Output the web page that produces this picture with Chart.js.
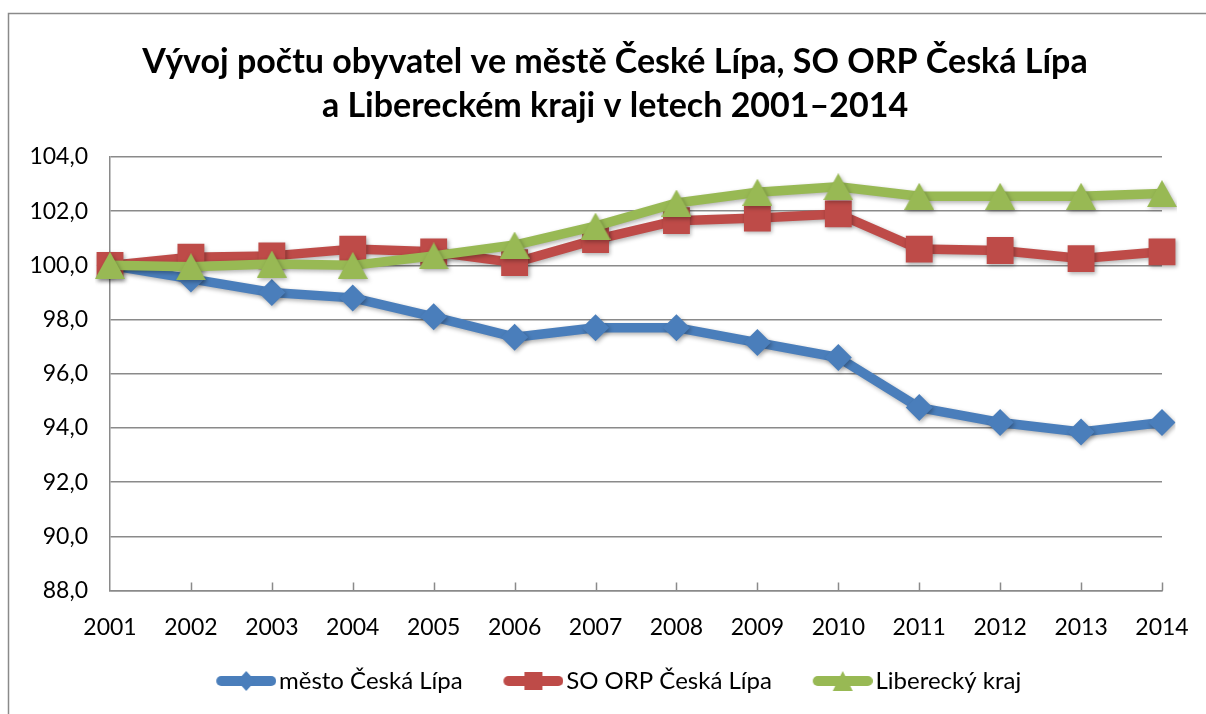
<!DOCTYPE html>
<html>
<head>
<meta charset="utf-8">
<script src="https://cdn.jsdelivr.net/npm/chart.js@4/dist/chart.umd.min.js"></script>
<style>
  html, body { margin: 0; padding: 0; background: #fff; }
  #wrap { width: 1206px; height: 714px; position: relative; }
</style>
</head>
<body>
<div id="wrap"><canvas id="c" width="1206" height="714"></canvas></div>
<script>
const years = ['2001','2002','2003','2004','2005','2006','2007','2008','2009','2010','2011','2012','2013','2014'];
const mestoCeskaLipa = [100.0, 99.5, 99.0, 98.8, 98.1, 97.35, 97.7, 97.7, 97.15, 96.6, 94.75, 94.2, 93.85, 94.2];
const orpCeskaLipa = [100.0, 100.3, 100.35, 100.6, 100.5, 100.1, 100.95, 101.65, 101.75, 101.9, 100.6, 100.55, 100.25, 100.5];
const libereckyKraj = [100.0, 99.95, 100.05, 100.0, 100.35, 100.75, 101.45, 102.3, 102.7, 102.9, 102.55, 102.55, 102.55, 102.65];
const seriesNames = ['město Česká Lípa', 'SO ORP Česká Lípa', 'Liberecký kraj'];
const titleLines = ['Vývoj počtu obyvatel ve městě České Lípa, SO ORP Česká Lípa', 'a Libereckém kraji v letech 2001–2014'];
const yTicks = { min: 88, max: 104, step: 2 };

const BLUE = '#4A7EBB', RED = '#BE4B48', GREEN = '#98B954', GRID = '#8a8a8a';
const FONT = 'Lato, "Open Sans", sans-serif';

function triangleCanvas(w, h, color) {
  const c = document.createElement('canvas');
  c.width = w; c.height = h;
  const g = c.getContext('2d');
  g.fillStyle = color;
  g.beginPath();
  g.moveTo(w / 2, 0); g.lineTo(w, h); g.lineTo(0, h); g.closePath();
  g.fill();
  return c;
}
// legend glyph: transparent left margin, then a 60px line with the marker in its middle
function legendCanvas(color, marker) {
  const w = 100, h = 24;
  const c = document.createElement('canvas');
  c.width = w; c.height = h;
  const g = c.getContext('2d');
  g.strokeStyle = color; g.lineWidth = 10; g.lineCap = 'round';
  g.beginPath(); g.moveTo(45, h / 2); g.lineTo(95, h / 2); g.stroke();
  g.fillStyle = color;
  const cx = 70, cy = h / 2;
  g.beginPath();
  if (marker === 'diamond') {
    g.moveTo(cx, cy - 10); g.lineTo(cx + 9, cy); g.lineTo(cx, cy + 10); g.lineTo(cx - 9, cy);
  } else if (marker === 'square') {
    g.rect(cx - 9, cy - 9, 18, 18);
  } else {
    g.moveTo(cx, cy - 10); g.lineTo(cx + 10, cy + 10); g.lineTo(cx - 10, cy + 10);
  }
  g.closePath(); g.fill();
  return c;
}
const greenTri = triangleCanvas(30, 27, GREEN);
const legendImgs = [legendCanvas(BLUE, 'diamond'), legendCanvas(RED, 'square'), legendCanvas(GREEN, 'triangle')];

const frame = {
  id: 'frame',
  afterLayout(chart) {
    const t = chart.titleBlock;
    if (t) { t.left += 34; t.right += 34; }
    const L = chart.legend;
    if (L && L.lineWidths) {
      const p = L.options.labels.padding;
      const x0 = (L.left + p + L.right - L.lineWidths[0]) / 2;
      const dx = 185.5 - x0;
      L.left += dx; L.right += dx;
    }
  },
  beforeDraw(chart) {
    const ctx = chart.ctx;
    ctx.save();
    ctx.fillStyle = '#fff';
    ctx.fillRect(0, 0, chart.width, chart.height);
    ctx.strokeStyle = GRID; ctx.lineWidth = 1.5;
    ctx.strokeRect(8.5, 13.5, 1400, 900);
    ctx.restore();
  },
  afterDraw(chart) {
    const s = chart.scales.x, ctx = chart.ctx;
    ctx.save();
    ctx.strokeStyle = GRID; ctx.lineWidth = 1.5;
    ctx.beginPath();
    for (let i = 1; i < s.ticks.length; i++) {
      const x = Math.round(s.getPixelForTick(i)) + 0.5;
      ctx.moveTo(x, s.top); ctx.lineTo(x, s.top - 8);
    }
    ctx.stroke();
    ctx.restore();
  },
  beforeDatasetsDraw(chart) {
    const ctx = chart.ctx;
    ctx.save();
    ctx.shadowColor = 'rgba(0,0,0,0.3)';
    ctx.shadowBlur = 4; ctx.shadowOffsetX = 1.5; ctx.shadowOffsetY = 2;
  },
  afterDatasetsDraw(chart) { chart.ctx.restore(); }
};

new Chart(document.getElementById('c'), {
  type: 'line',
  plugins: [frame],
  data: {
    labels: years,
    datasets: [
      { label: seriesNames[0], data: mestoCeskaLipa, borderColor: BLUE, backgroundColor: BLUE,
        borderWidth: 9.5, pointStyle: 'rectRot', pointRadius: 13.5, pointBorderWidth: 0, order: 2 },
      { label: seriesNames[1], data: orpCeskaLipa, borderColor: RED, backgroundColor: RED,
        borderWidth: 9.5, pointStyle: 'rect', pointRadius: 19, pointBorderWidth: 0, order: 1 },
      { label: seriesNames[2], data: libereckyKraj, borderColor: GREEN, backgroundColor: GREEN,
        borderWidth: 9.5, pointStyle: greenTri, pointRadius: 15, pointBorderWidth: 0, order: 0 }
    ]
  },
  options: {
    responsive: false,
    animation: false,
    devicePixelRatio: 1,
    layout: { padding: { left: 0, right: 44, top: 0, bottom: 11 } },
    elements: { line: { tension: 0, borderJoinStyle: 'round' } },
    plugins: {
      tooltip: { enabled: false },
      title: {
        display: true, text: titleLines, color: '#000',
        font: { family: FONT, size: 34, weight: 'bold', lineHeight: 1.294 },
        padding: { top: 40, bottom: 29 }
      },
      legend: {
        display: true, position: 'bottom',
        labels: {
          color: '#000', font: { family: FONT, size: 24 },
          usePointStyle: true, pointStyleWidth: 81.5, padding: 10,
          generateLabels(chart) {
            return chart.data.datasets.map((d, i) => ({
              text: d.label, pointStyle: legendImgs[i], fillStyle: d.borderColor,
              strokeStyle: d.borderColor, lineWidth: 0, hidden: false, datasetIndex: i, fontColor: '#000'
            }));
          }
        }
      }
    },
    scales: {
      x: {
        offset: false,
        grid: { display: false, drawTicks: true, tickLength: 20 },
        border: { display: true, color: GRID, width: 1.5 },
        ticks: { color: '#000', font: { family: FONT, size: 23 }, padding: 3, maxRotation: 0, autoSkip: false },
        afterFit(s) { s.height = 68.5; }
      },
      y: {
        min: yTicks.min, max: yTicks.max,
        grid: { color: GRID, lineWidth: 1.5, drawTicks: false },
        border: { display: true, color: GRID, width: 1.5 },
        ticks: { stepSize: yTicks.step, color: '#000', font: { family: FONT, size: 23 }, padding: 22,
          callback: v => v.toFixed(1).replace('.', ',') },
        afterFit(s) { s.width = 110; }
      }
    }
  }
});
</script>
</body>
</html>
